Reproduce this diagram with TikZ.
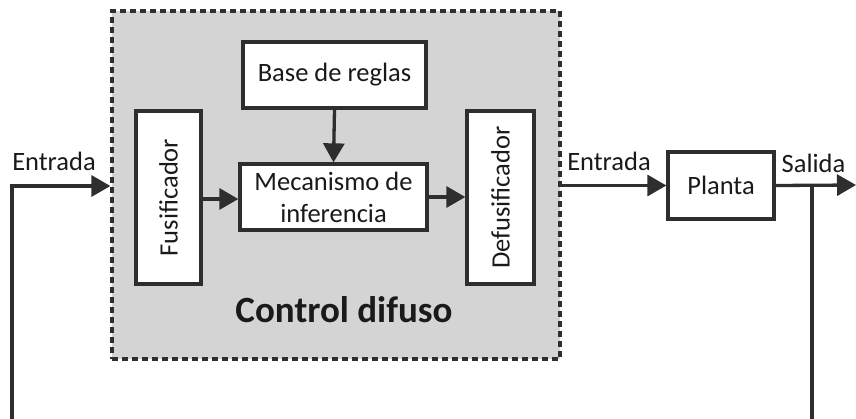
\documentclass[tikz,border=0pt]{standalone}
\usepackage{fontspec}
\setmainfont{Carlito}
\usetikzlibrary{arrows.meta}
\definecolor{linec}{HTML}{2E2E2E}
\definecolor{panel}{HTML}{D4D4D4}
\definecolor{txt}{HTML}{1A1A1A}
\tikzset{
  blk/.style={draw=linec, line width=3.3pt, fill=white, inner sep=0pt, text=txt,
    font=\fontsize{26.5}{32}\selectfont},
  lbl/.style={text=txt, inner sep=0pt, font=\fontsize{26.5}{32}\selectfont},
  conn/.style={draw=linec, line width=3.3pt, -{Triangle[length=19pt,width=21pt]}},
  plain/.style={draw=linec, line width=3.3pt},
}
\begin{document}
\begin{tikzpicture}[x=1pt,y=-1pt]
\useasboundingbox (0,0) rectangle (856,418);
\node[draw=linec, fill=panel, line width=3.2pt, dash pattern=on 6pt off 4pt,
  minimum width=448pt, minimum height=348pt, inner sep=0pt] (ctrl) at (336,185) {};
\node[blk, minimum width=65pt, minimum height=173pt] (fus) at (168.5,197.5) {\rotatebox{90}{Fusificador}};
\node[blk, minimum width=183pt, minimum height=66pt] (base) at (334.5,75) {Base de reglas};
\node[blk, minimum width=187pt, minimum height=66pt, align=center] (mec) at (333.5,197) {Mecanismo de\\inferencia};
\node[blk, minimum width=67pt, minimum height=173pt] (defu) at (500.5,197.5) {\rotatebox{90}{Defusificador}};
\node[blk, minimum width=106pt, minimum height=67pt] (planta) at (721,185.5) {Planta};
\node[text=txt, inner sep=0pt, anchor=base, font=\bfseries\fontsize{37}{40}\selectfont] (cd) at (344,322) {Control difuso};
\node[lbl, anchor=base] (e1) at (54,170) {Entrada};
\node[lbl, anchor=base] (e2) at (609,170) {Entrada};
\node[lbl, anchor=base] (sal) at (813.5,172) {Salida};
\coordinate (fbL) at (12,419);
\coordinate (fbR) at (812,419);
\coordinate (outR) at (856,185);
\coordinate (jR) at (812,185);
\draw[conn] (fbL) -- (12,186) -- (ctrl.west |- 0,186);
\draw[conn] (fus.east |- 0,199) -- (mec.west |- 0,199);
\draw[conn] (base.south) -- (mec.north);
\draw[conn] (mec.east |- 0,197) -- (defu.west |- 0,197);
\draw[conn] (ctrl.east |- planta.west) -- (planta.west);
\draw[conn] (planta.east) -- (outR);
\draw[plain] (jR) -- (fbR);
\end{tikzpicture}
\end{document}
